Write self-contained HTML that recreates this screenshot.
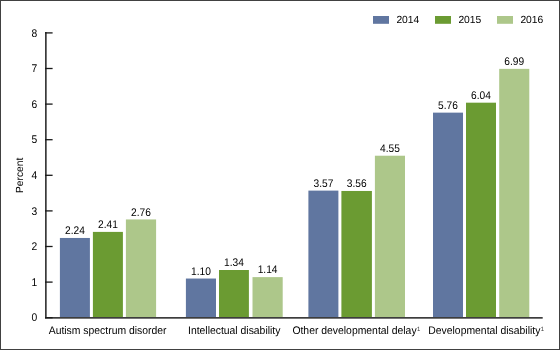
<!DOCTYPE html><html><head><meta charset="utf-8"><title>Developmental disability prevalence, 2014-2016</title><style>html,body{margin:0;padding:0;background:#fff}svg{display:block;will-change:transform}text{font-family:"Liberation Sans",sans-serif;fill:#000;text-rendering:geometricPrecision}</style></head><body>
<svg width="560" height="350" viewBox="0 0 560 350">
<rect x="0" y="0" width="560" height="350" fill="#fff"/>
<rect x="0.5" y="0.5" width="559" height="349" fill="none" stroke="#414141" stroke-width="1"/>
<rect x="59.9" y="237.96" width="30.00" height="79.74" fill="#6076a0"/>
<text transform="translate(74.90 234.26) scale(1 1.08)" font-size="10.2" text-anchor="middle">2.24</text>
<rect x="92.9" y="231.90" width="30.00" height="85.80" fill="#6b9b32"/>
<text transform="translate(107.90 228.20) scale(1 1.08)" font-size="10.2" text-anchor="middle">2.41</text>
<rect x="125.9" y="219.44" width="30.20" height="98.26" fill="#adc78a"/>
<text transform="translate(141.00 215.74) scale(1 1.08)" font-size="10.2" text-anchor="middle">2.76</text>
<rect x="185.9" y="278.54" width="30.10" height="39.16" fill="#6076a0"/>
<text transform="translate(200.95 274.84) scale(1 1.08)" font-size="10.2" text-anchor="middle">1.10</text>
<rect x="219" y="270.00" width="29.90" height="47.70" fill="#6b9b32"/>
<text transform="translate(233.95 266.30) scale(1 1.08)" font-size="10.2" text-anchor="middle">1.34</text>
<rect x="252.5" y="277.12" width="30.20" height="40.58" fill="#adc78a"/>
<text transform="translate(267.60 273.42) scale(1 1.08)" font-size="10.2" text-anchor="middle">1.14</text>
<rect x="308.4" y="190.61" width="30.00" height="127.09" fill="#6076a0"/>
<text transform="translate(323.40 186.91) scale(1 1.08)" font-size="10.2" text-anchor="middle">3.57</text>
<rect x="341.4" y="190.96" width="30.50" height="126.74" fill="#6b9b32"/>
<text transform="translate(356.65 187.26) scale(1 1.08)" font-size="10.2" text-anchor="middle">3.56</text>
<rect x="374.9" y="155.72" width="30.10" height="161.98" fill="#adc78a"/>
<text transform="translate(389.95 152.02) scale(1 1.08)" font-size="10.2" text-anchor="middle">4.55</text>
<rect x="433" y="112.64" width="30.00" height="205.06" fill="#6076a0"/>
<text transform="translate(448.00 108.94) scale(1 1.08)" font-size="10.2" text-anchor="middle">5.76</text>
<rect x="466" y="102.68" width="30.00" height="215.02" fill="#6b9b32"/>
<text transform="translate(481.00 98.98) scale(1 1.08)" font-size="10.2" text-anchor="middle">6.04</text>
<rect x="499.2" y="68.86" width="30.10" height="248.84" fill="#adc78a"/>
<text transform="translate(514.25 65.16) scale(1 1.08)" font-size="10.2" text-anchor="middle">6.99</text>
<rect x="45" y="32.1" width="1.7" height="286.1" fill="#3a3a3a"/>
<rect x="45" y="317" width="497.7" height="1.7" fill="#3d3d3d"/>
<rect x="45" y="317.05" width="7.6" height="1.3" fill="#1a1a1a"/>
<text transform="translate(37.30 321.30) scale(1 1.08)" font-size="10.3" text-anchor="end">0</text>
<rect x="45" y="281.45" width="7.6" height="1.3" fill="#1a1a1a"/>
<text transform="translate(37.30 285.70) scale(1 1.08)" font-size="10.3" text-anchor="end">1</text>
<rect x="45" y="245.85" width="7.6" height="1.3" fill="#1a1a1a"/>
<text transform="translate(37.30 250.10) scale(1 1.08)" font-size="10.3" text-anchor="end">2</text>
<rect x="45" y="210.25" width="7.6" height="1.3" fill="#1a1a1a"/>
<text transform="translate(37.30 214.50) scale(1 1.08)" font-size="10.3" text-anchor="end">3</text>
<rect x="45" y="174.65" width="7.6" height="1.3" fill="#1a1a1a"/>
<text transform="translate(37.30 178.90) scale(1 1.08)" font-size="10.3" text-anchor="end">4</text>
<rect x="45" y="139.05" width="7.6" height="1.3" fill="#1a1a1a"/>
<text transform="translate(37.30 143.30) scale(1 1.08)" font-size="10.3" text-anchor="end">5</text>
<rect x="45" y="103.45" width="7.6" height="1.3" fill="#1a1a1a"/>
<text transform="translate(37.30 107.70) scale(1 1.08)" font-size="10.3" text-anchor="end">6</text>
<rect x="45" y="67.85" width="7.6" height="1.3" fill="#1a1a1a"/>
<text transform="translate(37.30 72.10) scale(1 1.08)" font-size="10.3" text-anchor="end">7</text>
<rect x="45" y="32.25" width="7.6" height="1.3" fill="#1a1a1a"/>
<text transform="translate(37.30 36.50) scale(1 1.08)" font-size="10.3" text-anchor="end">8</text>
<text transform="translate(23.1,175.3) rotate(-90)" font-size="10.3" text-anchor="middle">Percent</text>
<rect x="373" y="16" width="16" height="7.8" fill="#6076a0"/>
<text x="396.4" y="22.8" font-size="10.3">2014</text>
<rect x="435" y="16" width="16" height="7.8" fill="#6b9b32"/>
<text x="458.4" y="22.8" font-size="10.3">2015</text>
<rect x="497" y="16" width="16" height="7.8" fill="#adc78a"/>
<text x="520.4" y="22.8" font-size="10.3">2016</text>
<text transform="translate(48.70 333.60) scale(1 1.06)" font-size="10.4">Autism spectrum disorder</text>
<text transform="translate(188.00 333.60) scale(1 1.06)" font-size="10.4">Intellectual disability</text>
<text transform="translate(292.40 333.60) scale(1 1.06)" font-size="10.4">Other developmental delay<tspan font-size="6" dx="0.3" dy="-2.75" fill="#3a3a3a">1</tspan></text>
<text transform="translate(428.30 333.60) scale(1 1.06)" font-size="10.4">Developmental disability<tspan font-size="6" dx="0.3" dy="-2.75" fill="#3a3a3a">1</tspan></text>
</svg></body></html>
